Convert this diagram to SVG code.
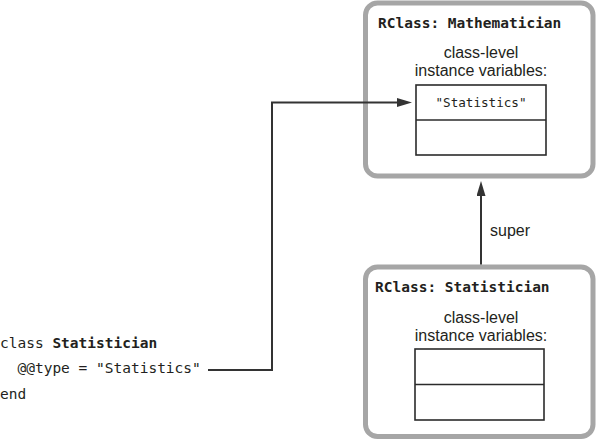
<svg xmlns="http://www.w3.org/2000/svg" width="596" height="441" viewBox="0 0 596 441">
  <style>
    .frame { fill: #ffffff; stroke: #a6a6a6; stroke-width: 5; }
    .slots { fill: #ffffff; stroke: #2b2b2b; stroke-width: 1.6; }
    .title { font-family: "DejaVu Sans Mono", "Liberation Mono", monospace; font-weight: bold; font-size: 14.5px; fill: #231f20; }
    .label { font-family: "Liberation Sans", Arial, sans-serif; font-size: 16px; fill: #231f20; text-anchor: middle; }
    .value { font-family: "DejaVu Sans Mono", "Liberation Mono", monospace; font-size: 12.6px; fill: #231f20; text-anchor: middle; }
    .code { font-family: "DejaVu Sans Mono", "Liberation Mono", monospace; font-size: 14.5px; fill: #231f20; white-space: pre; }
    .link { fill: none; stroke: #333333; stroke-width: 2; }
  </style>
  <defs>
    <marker id="head" viewBox="0 0 15 9" refX="0" refY="4.5" markerWidth="15" markerHeight="9" markerUnits="userSpaceOnUse" orient="auto">
      <path d="M0,0 L15,4.5 L0,9 Z" fill="#333333"/>
    </marker>
  </defs>

  <!-- Ruby class body -->
  <g id="code">
    <text class="code" x="0" y="348">class <tspan font-weight="bold">Statistician</tspan></text>
    <text class="code" x="0" y="373" xml:space="preserve">  @@type = "Statistics"</text>
    <text class="code" x="0" y="399">end</text>
  </g>

  <!-- RClass for Mathematician -->
  <g id="mathematician">
    <rect class="frame" x="365.5" y="3" width="227.5" height="173" rx="12"/>
    <text class="title" x="378" y="28">RClass: Mathematician</text>
    <text class="label" x="481" y="58">class-level</text>
    <text class="label" x="481" y="76">instance variables:</text>
    <rect class="slots" x="416" y="85" width="130" height="70"/>
    <line class="slots" x1="416" y1="120" x2="546" y2="120"/>
    <text class="value" x="481" y="107">"Statistics"</text>
  </g>

  <!-- RClass for Statistician -->
  <g id="statistician">
    <rect class="frame" x="365.5" y="267" width="227.5" height="169.5" rx="12"/>
    <text class="title" x="375" y="292">RClass: Statistician</text>
    <text class="label" x="481" y="323">class-level</text>
    <text class="label" x="481" y="341">instance variables:</text>
    <rect class="slots" x="415" y="349" width="129" height="71"/>
    <line class="slots" x1="415" y1="384.5" x2="544" y2="384.5"/>
  </g>

  <!-- connectors -->
  <g id="connectors">
    <path class="link" d="M208,370 H272 V102.5 H397" marker-end="url(#head)"/>
    <path class="link" d="M481,264.5 V196" marker-end="url(#head)"/>
    <text class="label" x="490" y="236" style="text-anchor: start;">super</text>
  </g>
</svg>
